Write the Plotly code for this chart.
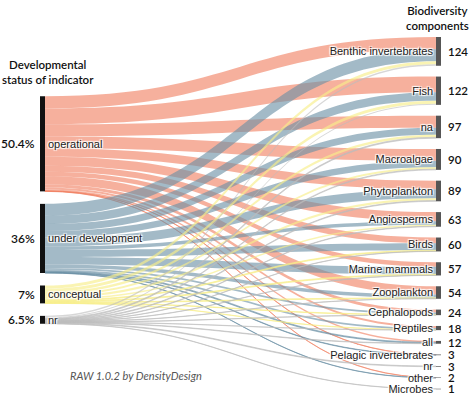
import plotly.graph_objects as go

# ---------------- data ----------------
statuses = ["operational", "under development", "conceptual", "nr"]
status_pct = ["50.4%", "36%", "7%", "6.5%"]
components = ["Benthic invertebrates", "Fish", "na", "Macroalgae", "Phytoplankton",
              "Angiosperms", "Birds", "Marine mammals", "Zooplankton", "Cephalopods",
              "Reptiles", "all", "Pelagic invertebrates", "nr", "other", "Microbes"]
# links from each status to each component (same order as components)
operational       = [53, 68, 52, 51, 37, 39, 25, 20, 35, 13, 9, 6, 1, 0, 1, 0]
under_development = [51, 36, 30, 28, 39, 15, 30, 32, 15, 8, 7, 4, 2, 0, 1, 0]
conceptual        = [14, 13, 11, 8, 10, 7, 4, 4, 3, 2, 1, 0, 0, 0, 0, 0]
nr_status         = [6, 5, 4, 3, 3, 2, 1, 1, 1, 1, 1, 2, 0, 3, 0, 1]
flows = [operational, under_development, conceptual, nr_status]

# ---------------- style / geometry ----------------
FIG_W, FIG_H = 474, 397
PLOT_X0, PLOT_X1 = 40, 441       # px, sankey horizontal extent
PLOT_Y0, PLOT_Y1 = 37, 389       # px, sankey vertical extent
THICK = 5
PAD = 10.8
LEFT_GAP = 12.5
link_colors = ["rgba(241,127,97,0.62)", "rgba(106,143,164,0.62)",
               "rgba(247,238,138,0.65)", "rgba(188,188,188,0.6)"]

W = PLOT_X1 - PLOT_X0
H = PLOT_Y1 - PLOT_Y0

comp_tot = [sum(f[j] for f in flows) for j in range(len(components))]
stat_tot = [sum(f) for f in flows]
total = sum(comp_tot)
ky = (H - (len(components) - 1) * PAD) / total

# node centers (px from top of plot area), derived from data
right_c = []
y = 0.0
for v in comp_tot:
    right_c.append(y + v * ky / 2)
    y += v * ky + PAD
span_left = total * ky + (len(statuses) - 1) * LEFT_GAP
left_c = []
y = (H - span_left) / 2 - 3
for v in stat_tot:
    left_c.append(y + v * ky / 2)
    y += v * ky + LEFT_GAP

node_x = [THICK / 2 / W] * len(statuses) + [1 - THICK / 2 / W] * len(components)
node_y = [c / H for c in left_c] + [c / H for c in right_c]

src, tgt, val, col = [], [], [], []
for i, f in enumerate(flows):
    for j, v in enumerate(f):
        if v > 0:
            src.append(i)
            tgt.append(len(statuses) + j)
            val.append(v)
            col.append(link_colors[i])

fig = go.Figure(go.Sankey(
    arrangement="fixed",
    domain=dict(x=[PLOT_X0 / FIG_W, PLOT_X1 / FIG_W],
                y=[1 - PLOT_Y1 / FIG_H, 1 - PLOT_Y0 / FIG_H]),
    node=dict(label=statuses + components,
              x=node_x, y=node_y,
              pad=PAD, thickness=THICK,
              color=["#111111"] * len(statuses) + ["#555555"] * len(components),
              line=dict(width=0),
              hoverinfo="none"),
    link=dict(source=src, target=tgt, value=val, color=col, hoverinfo="none"),
    textfont=dict(family="Liberation Sans, Arial", size=11, color="#222222"),
))

def py(px_from_top):
    return 1 - (PLOT_Y0 + px_from_top) / FIG_H

annots = []
for p, c in zip(status_pct, left_c):
    annots.append(dict(x=37 / FIG_W, y=py(c), xref="paper", yref="paper",
                       text=p, showarrow=False, xanchor="right", yanchor="middle",
                       font=dict(family="Lato", size=12, color="#111", weight=600)))
for v, c in zip(comp_tot, right_c):
    annots.append(dict(x=446 / FIG_W, y=py(c), xref="paper", yref="paper",
                       text=str(v), showarrow=False, xanchor="left", yanchor="middle",
                       font=dict(family="Lato", size=11.5, color="#111", weight=600)))
annots.append(dict(x=48 / FIG_W, y=1 - 72 / FIG_H, xref="paper", yref="paper",
                   text="Developmental<br>status of indicator", showarrow=False,
                   xanchor="center", yanchor="middle", align="center",
                   font=dict(family="Lato", size=11.5, color="#111", weight=600)))
annots.append(dict(x=437 / FIG_W, y=1 - 18 / FIG_H, xref="paper", yref="paper",
                   text="Biodiversity<br>components", showarrow=False,
                   xanchor="center", yanchor="middle", align="center",
                   font=dict(family="Lato", size=11.5, color="#111", weight=600)))
annots.append(dict(x=68 / FIG_W, y=1 - 375 / FIG_H, xref="paper", yref="paper",
                   text="<i>RAW 1.0.2 by DensityDesign</i>", showarrow=False,
                   xanchor="left", yanchor="middle",
                   font=dict(family="Lato", size=11, color="#555")))

fig.update_layout(width=FIG_W, height=FIG_H, margin=dict(l=0, r=0, t=0, b=0),
                  paper_bgcolor="white", plot_bgcolor="white",
                  annotations=annots, showlegend=False)
fig.write_html("out.html", config={"displayModeBar": False},
               post_script="document.body.style.margin='0';")
